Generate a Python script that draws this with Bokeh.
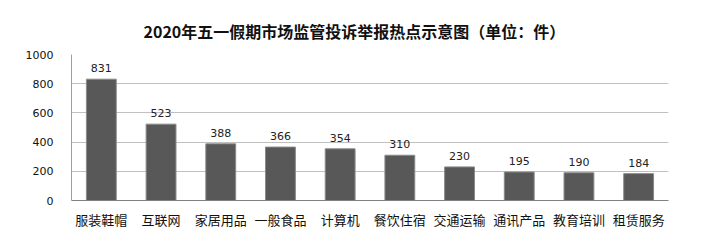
from bokeh.plotting import figure
from bokeh.models import ColumnDataSource, LabelSet, FixedTicker, Range1d, FactorRange
from bokeh.core.properties import value
from bokeh.embed import file_html
from bokeh.resources import INLINE

title_text = "2020年五一假期市场监管投诉举报热点示意图（单位：件）"
categories = ["服装鞋帽", "互联网", "家居用品", "一般食品", "计算机",
              "餐饮住宿", "交通运输", "通讯产品", "教育培训", "租赁服务"]
counts = [831, 523, 388, 366, 354, 310, 230, 195, 190, 184]
y_ticks = [0, 200, 400, 600, 800, 1000]

source = ColumnDataSource(dict(cat=categories, val=counts,
                               lab=[str(v) for v in counts]))

p = figure(x_range=FactorRange(*categories, range_padding=0),
           y_range=Range1d(0, 1000),
           width=709, height=251, output_backend="svg", toolbar_location=None,
           min_border_left=71, min_border_right=41, min_border_top=54,
           min_border_bottom=51, background_fill_color="white",
           border_fill_color="white", outline_line_color=None)

p.title.text = title_text
p.title.text_font = "Noto Sans CJK SC"
p.title.text_font_size = "16px"
p.title.text_font_style = "bold"
p.title.text_color = "#111111"
p.title.align = "left"
p.title.vertical_align = "top"
p.title.offset = 72
p.title.standoff = 20

p.vbar(x="cat", top="val", width=0.5, source=source,
       fill_color="#585858", line_color="#8a8a8a", line_width=1)

labels = LabelSet(x="cat", y="val", text="lab", source=source,
                  text_align="center", text_baseline="bottom", y_offset=7,
                  text_font=value("DejaVu Sans"), text_font_size=value("11px"),
                  text_color="#222222")
p.add_layout(labels)

p.yaxis.ticker = FixedTicker(ticks=y_ticks)
p.yaxis.major_label_text_font = "DejaVu Sans"
p.yaxis.major_label_text_font_size = "11px"
p.yaxis.major_label_text_color = "#111111"
p.yaxis.axis_line_color = "#a0a0a0"
p.yaxis.major_tick_line_color = None
p.yaxis.minor_tick_line_color = None
p.yaxis.major_label_standoff = 12

p.xaxis.major_label_text_font = "Noto Sans CJK SC"
p.xaxis.major_label_text_font_size = "13px"
p.xaxis.major_label_text_color = "#111111"
p.xaxis.axis_line_color = "#808080"
p.xaxis.major_tick_line_color = None
p.xaxis.minor_tick_line_color = None
p.xaxis.major_label_standoff = 3

p.xgrid.grid_line_color = None
p.ygrid.grid_line_color = "#c0c0c0"
p.ygrid.grid_line_width = 1

open("out.html", "w").write(file_html(p, INLINE))
